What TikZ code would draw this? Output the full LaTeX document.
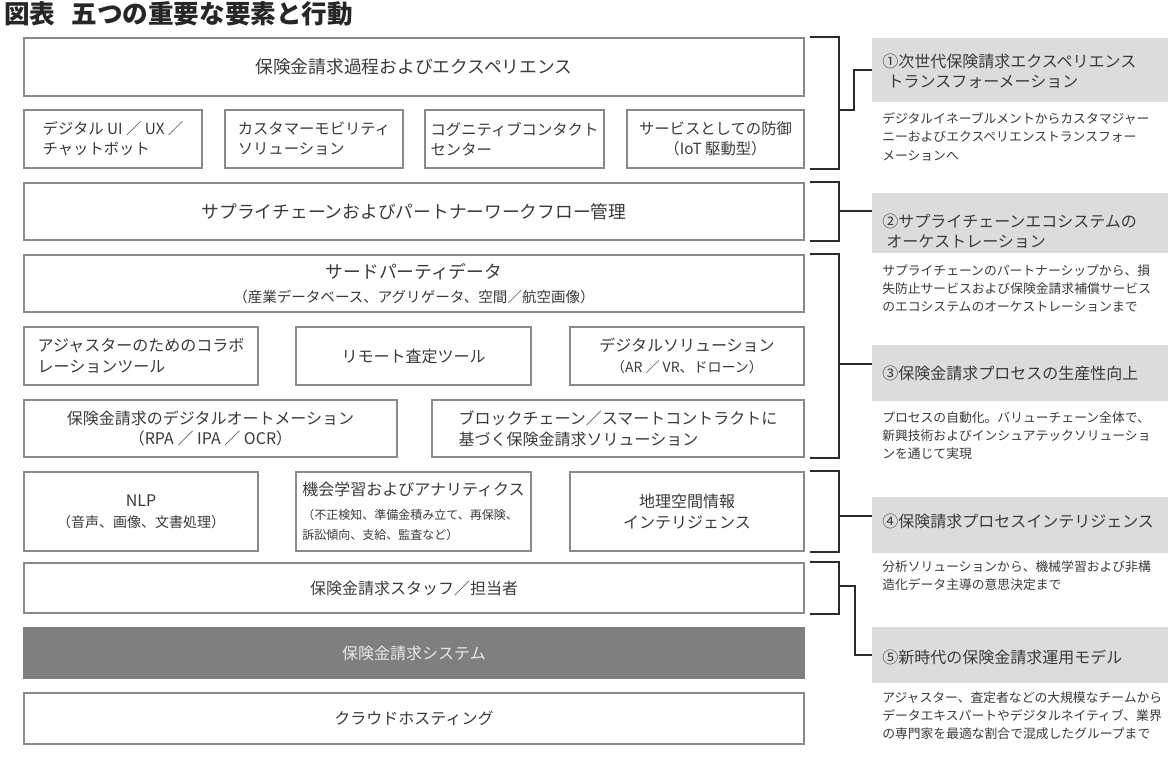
\documentclass[tikz,border=0pt]{standalone}
\usepackage{fontspec}
\setmainfont{Noto Sans CJK JP}
\usetikzlibrary{calc}
\definecolor{boxline}{HTML}{8A8A8A}
\definecolor{txt}{HTML}{3A3A3A}
\definecolor{brkcol}{HTML}{2B2B2B}
\definecolor{lab}{HTML}{DCDCDC}
\definecolor{sysfill}{HTML}{7F7F7F}
\definecolor{systxt}{HTML}{E8E8E8}
\newcommand\mybox{\fontsize{12}{15.5}\selectfont}
\newcommand\myrowtwo{\fontsize{11.5}{15}\selectfont}
\newcommand\mybig{\fontsize{13.3}{17}\selectfont}
\newcommand\mysmall{\fontsize{10.5}{13}\selectfont}
\newcommand\mytiny{\fontsize{9}{13}\selectfont}
\newcommand\mydesc{\fontsize{9.6}{13.8}\selectfont}
\newcommand\mylab{\fontsize{12}{15}\selectfont}
\begin{document}
\begin{tikzpicture}[x=0.75pt,y=-0.75pt,
  box/.style={draw=boxline, line width=1pt, inner sep=0pt, font=\mybox, align=center, text=txt},
  labbox/.style={fill=lab, draw=none, minimum width=222pt, inner sep=0pt},
  labtxt/.style={anchor=west, inner sep=0pt, align=left, font=\mylab, text=txt},
  desc/.style={anchor=north west, inner sep=0pt, align=left, font=\mydesc, text=txt},
  brk/.style={draw=brkcol, line width=1.5pt}]
\useasboundingbox (0,0) rectangle (1168,758);
\fill[white] (0,0) rectangle (1168,758);

\node[anchor=west, inner sep=0pt, font=\fontsize{19.2}{22}\selectfont\bfseries, text=black!85] (title) at (4,14) {図表\hspace{12pt}五つの重要な要素と行動};

% left boxes
\node[box, font=\mybig, minimum width=585pt, minimum height=43.5pt] (b1) at (414,67) {保険金請求過程およびエクスペリエンス};
\node[box, font=\myrowtwo, minimum width=133.5pt, minimum height=43.5pt, align=left] (r2a) at (113,139) {デジタル UI ／ UX ／\\チャットボット};
\node[box, font=\myrowtwo, minimum width=133.5pt, minimum height=43.5pt, align=left] (r2b) at (314,139) {カスタマーモビリティ\\ソリューション};
\node[box, font=\myrowtwo, minimum width=134.25pt, minimum height=43.5pt, align=left] (r2c) at (514.5,139) {コグニティブコンタクト\\センター};
\node[box, font=\myrowtwo, minimum width=132.75pt, minimum height=43.5pt] (r2d) at (715.5,139) {サービスとしての防御\\（IoT 駆動型）};
\node[box, font=\mybig, minimum width=585pt, minimum height=42.75pt] (b3) at (414,211.5) {サプライチェーンおよびパートナーワークフロー管理};
\node[box, font=\mybig, minimum width=585pt, minimum height=42.75pt] (b4) at (414,283.5) {サードパーティデータ\\[1pt]{\fontsize{10.9}{13}\selectfont （産業データベース、アグリゲータ、空間／航空画像）}};
\node[box, minimum width=175.5pt, minimum height=43.5pt, align=left] (r5a) at (141,356) {アジャスターのためのコラボ\\レーションツール};
\node[box, minimum width=176.25pt, minimum height=43.5pt] (r5b) at (413.5,356) {リモート査定ツール};
\node[box, minimum width=175.5pt, minimum height=43.5pt] (r5c) at (687,356) {デジタルソリューション\\{\mysmall （AR ／ VR、ドローン）}};
\node[box, minimum width=279.75pt, minimum height=42.75pt] (r6a) at (210.5,428.5) {保険金請求のデジタルオートメーション\\（RPA ／ IPA ／ OCR）};
\node[box, minimum width=279pt, minimum height=42.75pt, align=left] (r6b) at (618,428.5) {ブロックチェーン／スマートコントラクトに\\基づく保険金請求ソリューション};
\node[box, minimum width=175.5pt, minimum height=59.25pt] (r7a) at (141,511.5) {NLP\\{\mysmall （音声、画像、文書処理）}};
\node[box, minimum width=176.25pt, minimum height=59.25pt, align=left] (r7b) at (413.5,511.5) {機会学習およびアナリティクス\\[2pt]{\mytiny （不正検知、準備金積み立て、再保険、}\\{\mytiny 訴訟傾向、支給、監査など）}};
\node[box, minimum width=175.5pt, minimum height=59.25pt] (r7c) at (687,511.5) {地理空間情報\\インテリジェンス};
\node[box, minimum width=585pt, minimum height=37.5pt] (b8) at (414,588) {保険金請求スタッフ／担当者};
\node[box, minimum width=585pt, minimum height=37.5pt, fill=sysfill, draw=sysfill, text=systxt] (b9) at (414,653) {保険金請求システム};
\node[box, minimum width=585pt, minimum height=38.25pt] (b10) at (414,718.5) {クラウドホスティング};

% label boxes
\node[labbox, minimum height=48pt] (L1) at (1020,70) {};
\node[labbox, minimum height=45pt] (L2) at (1020,223) {};
\node[labbox, minimum height=42pt] (L3) at (1020,373) {};
\node[labbox, minimum height=42pt] (L4) at (1020,525) {};
\node[labbox, minimum height=42pt] (L5) at (1020,655) {};

\node[labtxt] (T1) at (882,71) {①次世代保険請求エクスペリエンス\\\hspace{4pt}トランスフォーメーション};
\node[labtxt] (T2) at (882,231) {②サプライチェーンエコシステムの\\\hspace{3pt}オーケストレーション};
\node[labtxt] (T3) at (882,373) {③保険金請求プロセスの生産性向上};
\node[labtxt] (T4) at (882,521) {④保険請求プロセスインテリジェンス};
\node[labtxt] (T5) at (882,657) {⑤新時代の保険金請求運用モデル};

\node[desc] (D1) at (882,112) {デジタルイネーブルメントからカスタマジャー\\ニーおよびエクスペリエンストランスフォー\\メーションへ};
\node[desc] (D2) at (882,264) {サプライチェーンのパートナーシップから、損\\失防止サービスおよび保険金請求補償サービス\\のエコシステムのオーケストレーションまで};
\node[desc] (D3) at (882,411) {プロセスの自動化。バリューチェーン全体で、\\新興技術およびインシュアテックソリューショ\\ンを通じて実現};
\node[desc] (D4) at (882,560) {分析ソリューションから、機械学習および非構\\造化データ主導の意思決定まで};
\node[desc] (D5) at (882,691) {アジャスター、査定者などの大規模なチームから\\データエキスパートやデジタルネイティブ、業界\\の専門家を最適な割合で混成したグループまで};

% brackets
\coordinate (k1) at (839,110); \coordinate (j1) at (854,110);
\coordinate (k2) at (839,211);
\coordinate (k3) at (839,364);
\coordinate (k4) at (839,516);
\coordinate (k5) at (839,586); \coordinate (j5) at (855,586);

\draw[brk] ([xshift=3.75pt]b1.north east) -| (k1) |- ([xshift=3.75pt]r2d.south east);
\draw[brk] (k1) -- (j1) |- (L1.west);
\draw[brk] ([xshift=3.75pt]b3.north east) -| (k2) |- ([xshift=3.75pt]b3.south east);
\draw[brk] (k2) -- (k2 -| L2.west);
\draw[brk] ([xshift=3.75pt]b4.north east) -| (k3) |- ([xshift=3.75pt]r6b.south east);
\draw[brk] (k3) -- (k3 -| L3.west);
\draw[brk] ([xshift=3.75pt]r7c.north east) -| (k4) |- ([xshift=3.75pt]r7c.south east);
\draw[brk] (k4) -- (k4 -| L4.west);
\draw[brk] ([xshift=3.75pt]b8.north east) -| (k5) |- ([xshift=3.75pt]b8.south east);
\draw[brk] (k5) -- (j5) |- (L5.west);
\end{tikzpicture}
\end{document}
